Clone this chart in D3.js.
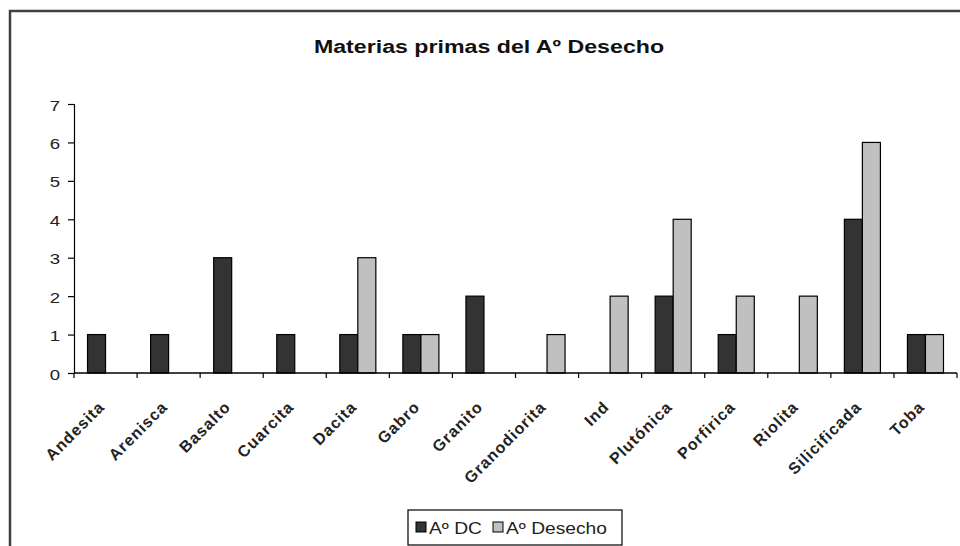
<!DOCTYPE html>
<html>
<head>
<meta charset="utf-8">
<script src="https://cdn.jsdelivr.net/npm/d3@7"></script>
<style>
  body { margin: 0; background: #fff; }
  svg { display: block; font-family: "Liberation Sans", Arial, sans-serif; }
</style>
</head>
<body>
<script>
var categories = ["Andesita", "Arenisca", "Basalto", "Cuarcita", "Dacita", "Gabro", "Granito",
                  "Granodiorita", "Ind", "Plutónica", "Porfirica", "Riolita", "Silicificada", "Toba"];
var seriesNames = ["Aº DC", "Aº Desecho"];
var dcValues = [1, 1, 3, 1, 1, 1, 2, 0, 0, 2, 1, 0, 4, 1];
var desechoValues = [0, 0, 0, 0, 3, 1, 0, 1, 2, 4, 2, 2, 6, 1];
var yTicks = [0, 1, 2, 3, 4, 5, 6, 7];
var colors = ["#333333", "#c0c0c0"];

var width = 960, height = 546;
// the source picture is stretched sideways, so text is widened a bit
var stretch = 1.2;

var svg = d3.select("body").append("svg")
    .attr("width", width)
    .attr("height", height);

// chart frame
svg.append("rect")
    .attr("x", 10).attr("y", 11)
    .attr("width", 970).attr("height", 560)
    .attr("fill", "none")
    .attr("stroke", "#404040")
    .attr("stroke-width", 2.5);

svg.append("text")
    .attr("transform", "translate(489,53) scale(1.22,1)")
    .attr("text-anchor", "middle")
    .attr("font-size", 19)
    .attr("font-weight", "bold")
    .attr("fill", "#111")
    .text("Materias primas del Aº Desecho");

var x = d3.scaleBand()
    .domain(categories)
    .range([74, 957]);

var y = d3.scaleLinear()
    .domain([0, 7])
    .range([373, 104]);

var barW = x.bandwidth() / 3.5;

var data = categories.map(function(c, i) {
    return { cat: c, values: [dcValues[i], desechoValues[i]] };
});

var groups = svg.append("g")
    .selectAll("g")
    .data(data)
    .enter().append("g")
    .attr("transform", function(d) { return "translate(" + x(d.cat) + ",0)"; });

groups.selectAll("rect")
    .data(function(d) { return d.values.map(function(v, k) { return { v: v, k: k }; }); })
    .enter().append("rect")
    .filter(function(d) { return d.v > 0; })
    .attr("x", function(d) { return barW * 0.75 + d.k * barW; })
    .attr("y", function(d) { return y(d.v); })
    .attr("width", barW)
    .attr("height", function(d) { return y(0) - y(d.v); })
    .attr("fill", function(d) { return colors[d.k]; })
    .attr("stroke", "#000")
    .attr("stroke-width", 1.2);

// y axis
var yAxis = svg.append("g")
    .attr("transform", "translate(74,0)")
    .call(d3.axisLeft(y).tickValues(yTicks).tickSize(6).tickFormat(d3.format("d")));
yAxis.select(".domain").attr("stroke", "#000").attr("stroke-width", 1.2);
yAxis.selectAll("line").attr("stroke", "#000").attr("stroke-width", 1.2);
yAxis.selectAll(".tick text")
    .attr("x", null).attr("dy", null)
    .attr("transform", "translate(-14,6) scale(" + stretch + ",1)")
    .attr("font-size", 15.5).attr("fill", "#222")
    .attr("font-family", "Liberation Sans, Arial, sans-serif");

// x axis: ticks between categories
var xAxis = svg.append("g")
    .attr("transform", "translate(0,373)");
xAxis.append("line")
    .attr("x1", 74).attr("x2", 957)
    .attr("stroke", "#000").attr("stroke-width", 1.5);
xAxis.selectAll("line.tick")
    .data(categories.concat([null]))
    .enter().append("line")
    .attr("class", "tick")
    .attr("x1", function(d, i) { return i < categories.length ? x(d) : 957; })
    .attr("x2", function(d, i) { return i < categories.length ? x(d) : 957; })
    .attr("y1", 0).attr("y2", 5)
    .attr("stroke", "#000").attr("stroke-width", 1.2);

svg.append("g")
    .selectAll("text")
    .data(categories)
    .enter().append("text")
    .attr("transform", function(d) {
        return "translate(" + (x(d) + x.bandwidth() / 2) + ",408) rotate(-45)";
    })
    .attr("text-anchor", "end")
    .attr("font-size", 16)
    .attr("font-weight", "bold")
    .attr("letter-spacing", 1)
    .attr("fill", "#222")
    .text(function(d) { return d; });

// legend
var legend = svg.append("g").attr("transform", "translate(408,510)");
legend.append("rect")
    .attr("width", 214).attr("height", 35)
    .attr("fill", "#fff")
    .attr("stroke", "#000").attr("stroke-width", 1.2);

var items = legend.selectAll("g.item")
    .data(seriesNames)
    .enter().append("g")
    .attr("class", "item")
    .attr("transform", function(d, i) { return "translate(" + (i === 0 ? 8 : 85) + ",0)"; });
items.append("rect")
    .attr("x", 0).attr("y", 12)
    .attr("width", 10).attr("height", 10)
    .attr("fill", function(d, i) { return colors[i]; })
    .attr("stroke", "#000").attr("stroke-width", 1);
items.append("text")
    .attr("transform", "translate(13,24) scale(" + stretch + ",1)")
    .attr("font-size", 16)
    .attr("fill", "#222")
    .text(function(d) { return d; });
</script>
</body>
</html>
